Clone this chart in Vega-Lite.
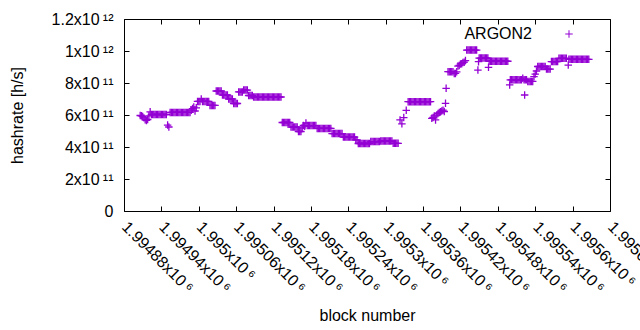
{
"$schema":"https://vega.github.io/schema/vega-lite/v6.json",
"width":486,"height":192,
"autosize":{"type":"none"},
"padding":{"left":124,"top":19,"right":30,"bottom":119},
"background":"white",
"config":{"view":{"stroke":null},"font":"Liberation Sans",
"axis":{"grid":false,"domainColor":"black","tickColor":"black","labelColor":"black","titleColor":"black","labelFont":"Liberation Sans, DejaVu Sans","titleFont":"Liberation Sans","labelFontSize":16,"titleFontSize":16,"titleFontWeight":"normal","tickSize":-5,"domainWidth":1,"tickWidth":1,"labelOverlap":false,"labelFlush":false}},
"data":{"values":[
{"block":1994906,"hashrate":5.97e11},{"block":1994908,"hashrate":5.95e11},{"block":1994910,"hashrate":5.9e11},{"block":1994912,"hashrate":5.82e11},{"block":1994914,"hashrate":5.7e11},{"block":1994916,"hashrate":5.66e11},{"block":1994918,"hashrate":5.72e11},{"block":1994920,"hashrate":5.95e11},{"block":1994922,"hashrate":6.2e11},
{"block":1994924,"hashrate":6.03e11},{"block":1994926,"hashrate":6.03e11},{"block":1994928,"hashrate":6.03e11},{"block":1994930,"hashrate":6.03e11},{"block":1994932,"hashrate":6.03e11},{"block":1994934,"hashrate":6.03e11},{"block":1994936,"hashrate":6.03e11},{"block":1994938,"hashrate":6.03e11},{"block":1994940,"hashrate":6.03e11},{"block":1994942,"hashrate":6.03e11},{"block":1994944,"hashrate":6.03e11},{"block":1994946,"hashrate":6.03e11},{"block":1994948,"hashrate":6.03e11},
{"block":1994950,"hashrate":5.37e11},{"block":1994952,"hashrate":5.25e11},
{"block":1994954,"hashrate":6.16e11},{"block":1994956,"hashrate":6.16e11},{"block":1994958,"hashrate":6.16e11},{"block":1994960,"hashrate":6.16e11},{"block":1994962,"hashrate":6.16e11},{"block":1994964,"hashrate":6.16e11},{"block":1994966,"hashrate":6.16e11},{"block":1994968,"hashrate":6.16e11},{"block":1994970,"hashrate":6.16e11},{"block":1994972,"hashrate":6.16e11},{"block":1994974,"hashrate":6.16e11},{"block":1994976,"hashrate":6.16e11},{"block":1994978,"hashrate":6.16e11},{"block":1994980,"hashrate":6.16e11},{"block":1994982,"hashrate":6.16e11},{"block":1994984,"hashrate":6.16e11},{"block":1994986,"hashrate":6.16e11},
{"block":1994988,"hashrate":6.3e11},{"block":1994990,"hashrate":6.4e11},{"block":1994992,"hashrate":6.5e11},{"block":1994994,"hashrate":6.25e11},{"block":1994996,"hashrate":6.45e11},
{"block":1994998,"hashrate":6.85e11},{"block":1995000,"hashrate":6.85e11},{"block":1995002,"hashrate":6.85e11},{"block":1995004,"hashrate":7.0e11},{"block":1995006,"hashrate":6.85e11},{"block":1995008,"hashrate":6.85e11},{"block":1995010,"hashrate":6.85e11},{"block":1995012,"hashrate":6.85e11},{"block":1995014,"hashrate":6.85e11},{"block":1995016,"hashrate":6.85e11},
{"block":1995018,"hashrate":6.6e11},{"block":1995020,"hashrate":6.6e11},{"block":1995022,"hashrate":6.6e11},{"block":1995024,"hashrate":6.6e11},{"block":1995026,"hashrate":6.6e11},
{"block":1995028,"hashrate":7.5e11},{"block":1995030,"hashrate":7.5e11},{"block":1995032,"hashrate":7.5e11},{"block":1995034,"hashrate":7.5e11},{"block":1995036,"hashrate":7.5e11},
{"block":1995038,"hashrate":7.25e11},{"block":1995040,"hashrate":7.25e11},{"block":1995042,"hashrate":7.25e11},{"block":1995044,"hashrate":7.25e11},{"block":1995046,"hashrate":7.25e11},
{"block":1995048,"hashrate":7.0e11},{"block":1995050,"hashrate":7.0e11},{"block":1995052,"hashrate":7.0e11},{"block":1995054,"hashrate":7.0e11},
{"block":1995056,"hashrate":6.72e11},{"block":1995058,"hashrate":6.72e11},{"block":1995060,"hashrate":6.72e11},{"block":1995062,"hashrate":6.72e11},
{"block":1995064,"hashrate":7.44e11},{"block":1995066,"hashrate":7.44e11},{"block":1995068,"hashrate":7.44e11},{"block":1995070,"hashrate":7.44e11},
{"block":1995072,"hashrate":7.56e11},{"block":1995074,"hashrate":7.56e11},{"block":1995076,"hashrate":7.56e11},{"block":1995078,"hashrate":7.56e11},
{"block":1995080,"hashrate":7.22e11},{"block":1995082,"hashrate":7.22e11},{"block":1995084,"hashrate":7.22e11},{"block":1995086,"hashrate":7.22e11},
{"block":1995088,"hashrate":7.125e11},{"block":1995090,"hashrate":7.125e11},{"block":1995092,"hashrate":7.125e11},{"block":1995094,"hashrate":7.125e11},{"block":1995096,"hashrate":7.125e11},{"block":1995098,"hashrate":7.125e11},{"block":1995100,"hashrate":7.125e11},{"block":1995102,"hashrate":7.125e11},{"block":1995104,"hashrate":7.125e11},{"block":1995106,"hashrate":7.125e11},{"block":1995108,"hashrate":7.125e11},{"block":1995110,"hashrate":7.125e11},{"block":1995112,"hashrate":7.125e11},{"block":1995114,"hashrate":7.125e11},{"block":1995116,"hashrate":7.125e11},{"block":1995118,"hashrate":7.125e11},{"block":1995120,"hashrate":7.125e11},{"block":1995122,"hashrate":7.125e11},{"block":1995124,"hashrate":7.125e11},{"block":1995126,"hashrate":7.125e11},{"block":1995128,"hashrate":7.125e11},{"block":1995130,"hashrate":7.125e11},{"block":1995132,"hashrate":7.125e11},
{"block":1995134,"hashrate":5.53e11},{"block":1995136,"hashrate":5.53e11},{"block":1995138,"hashrate":5.53e11},{"block":1995140,"hashrate":5.53e11},{"block":1995142,"hashrate":5.53e11},{"block":1995144,"hashrate":5.53e11},{"block":1995146,"hashrate":5.53e11},
{"block":1995148,"hashrate":5.25e11},{"block":1995150,"hashrate":5.25e11},{"block":1995152,"hashrate":5.25e11},{"block":1995154,"hashrate":5.25e11},{"block":1995156,"hashrate":5.25e11},{"block":1995158,"hashrate":5.25e11},
{"block":1995160,"hashrate":4.97e11},{"block":1995162,"hashrate":4.97e11},{"block":1995164,"hashrate":4.97e11},
{"block":1995166,"hashrate":5.2e11},{"block":1995168,"hashrate":5.35e11},{"block":1995170,"hashrate":5.3e11},{"block":1995172,"hashrate":5.5e11},
{"block":1995174,"hashrate":5.34e11},{"block":1995176,"hashrate":5.34e11},{"block":1995178,"hashrate":5.34e11},{"block":1995180,"hashrate":5.34e11},{"block":1995182,"hashrate":5.34e11},{"block":1995184,"hashrate":5.34e11},{"block":1995186,"hashrate":5.34e11},{"block":1995188,"hashrate":5.34e11},
{"block":1995190,"hashrate":5.16e11},{"block":1995192,"hashrate":5.16e11},{"block":1995194,"hashrate":5.16e11},{"block":1995196,"hashrate":5.16e11},{"block":1995198,"hashrate":5.16e11},{"block":1995200,"hashrate":5.16e11},{"block":1995202,"hashrate":5.16e11},{"block":1995204,"hashrate":5.16e11},{"block":1995206,"hashrate":5.16e11},{"block":1995208,"hashrate":5.16e11},{"block":1995210,"hashrate":5.16e11},{"block":1995212,"hashrate":5.16e11},
{"block":1995214,"hashrate":4.84e11},{"block":1995216,"hashrate":4.84e11},{"block":1995218,"hashrate":4.84e11},{"block":1995220,"hashrate":4.84e11},{"block":1995222,"hashrate":4.84e11},{"block":1995224,"hashrate":4.84e11},{"block":1995226,"hashrate":4.84e11},{"block":1995228,"hashrate":4.84e11},{"block":1995230,"hashrate":4.84e11},
{"block":1995232,"hashrate":4.62e11},{"block":1995234,"hashrate":4.62e11},{"block":1995236,"hashrate":4.62e11},{"block":1995238,"hashrate":4.62e11},{"block":1995240,"hashrate":4.62e11},{"block":1995242,"hashrate":4.62e11},{"block":1995244,"hashrate":4.62e11},{"block":1995246,"hashrate":4.62e11},{"block":1995248,"hashrate":4.62e11},{"block":1995250,"hashrate":4.62e11},
{"block":1995252,"hashrate":4.44e11},{"block":1995254,"hashrate":4.44e11},
{"block":1995256,"hashrate":4.22e11},{"block":1995258,"hashrate":4.22e11},{"block":1995260,"hashrate":4.22e11},{"block":1995262,"hashrate":4.22e11},{"block":1995264,"hashrate":4.22e11},{"block":1995266,"hashrate":4.22e11},{"block":1995268,"hashrate":4.22e11},{"block":1995270,"hashrate":4.22e11},{"block":1995272,"hashrate":4.22e11},{"block":1995274,"hashrate":4.22e11},
{"block":1995276,"hashrate":4.34e11},{"block":1995278,"hashrate":4.34e11},{"block":1995280,"hashrate":4.34e11},{"block":1995282,"hashrate":4.34e11},{"block":1995284,"hashrate":4.34e11},{"block":1995286,"hashrate":4.34e11},{"block":1995288,"hashrate":4.34e11},{"block":1995290,"hashrate":4.34e11},
{"block":1995292,"hashrate":4.37e11},{"block":1995294,"hashrate":4.37e11},{"block":1995296,"hashrate":4.37e11},{"block":1995298,"hashrate":4.37e11},{"block":1995300,"hashrate":4.37e11},{"block":1995302,"hashrate":4.37e11},{"block":1995304,"hashrate":4.37e11},{"block":1995306,"hashrate":4.37e11},{"block":1995308,"hashrate":4.37e11},{"block":1995310,"hashrate":4.37e11},
{"block":1995312,"hashrate":4.23e11},{"block":1995314,"hashrate":4.23e11},{"block":1995316,"hashrate":4.23e11},{"block":1995318,"hashrate":4.23e11},{"block":1995320,"hashrate":4.23e11},
{"block":1995323,"hashrate":5.69e11},{"block":1995326,"hashrate":5.45e11},{"block":1995329,"hashrate":5.84e11},{"block":1995333,"hashrate":6.29e11},
{"block":1995336,"hashrate":6.83e11},{"block":1995338,"hashrate":6.83e11},{"block":1995340,"hashrate":6.83e11},{"block":1995342,"hashrate":6.83e11},{"block":1995344,"hashrate":6.83e11},{"block":1995346,"hashrate":6.83e11},{"block":1995348,"hashrate":6.83e11},{"block":1995350,"hashrate":6.83e11},{"block":1995352,"hashrate":6.83e11},{"block":1995354,"hashrate":6.83e11},{"block":1995356,"hashrate":6.83e11},{"block":1995358,"hashrate":6.83e11},{"block":1995360,"hashrate":6.83e11},{"block":1995362,"hashrate":6.83e11},{"block":1995364,"hashrate":6.83e11},{"block":1995366,"hashrate":6.83e11},{"block":1995368,"hashrate":6.83e11},{"block":1995370,"hashrate":6.83e11},{"block":1995372,"hashrate":6.83e11},
{"block":1995374,"hashrate":5.79e11},{"block":1995376,"hashrate":5.85e11},{"block":1995378,"hashrate":5.94e11},{"block":1995380,"hashrate":5.69e11},{"block":1995382,"hashrate":6.0e11},{"block":1995384,"hashrate":6.1e11},{"block":1995386,"hashrate":6.15e11},{"block":1995388,"hashrate":6.2e11},{"block":1995390,"hashrate":6.25e11},{"block":1995392,"hashrate":6.3e11},{"block":1995394,"hashrate":6.22e11},{"block":1995396,"hashrate":6.73e11},{"block":1995397,"hashrate":7.67e11},
{"block":1995400,"hashrate":8.71e11},{"block":1995402,"hashrate":8.71e11},{"block":1995404,"hashrate":8.71e11},{"block":1995406,"hashrate":8.71e11},{"block":1995408,"hashrate":8.71e11},{"block":1995410,"hashrate":8.6e11},{"block":1995412,"hashrate":8.6e11},{"block":1995414,"hashrate":8.7e11},
{"block":1995416,"hashrate":9.06e11},{"block":1995418,"hashrate":9.1e11},{"block":1995420,"hashrate":9.19e11},{"block":1995422,"hashrate":9.2e11},{"block":1995424,"hashrate":9.28e11},{"block":1995426,"hashrate":9.3e11},{"block":1995428,"hashrate":9.4e11},
{"block":1995430,"hashrate":1.006e12},{"block":1995432,"hashrate":1.006e12},{"block":1995434,"hashrate":1.006e12},{"block":1995436,"hashrate":1.006e12},{"block":1995438,"hashrate":1.006e12},{"block":1995440,"hashrate":1.006e12},{"block":1995442,"hashrate":1.006e12},{"block":1995444,"hashrate":1.006e12},{"block":1995446,"hashrate":1.006e12},
{"block":1995448,"hashrate":8.81e11},{"block":1995449,"hashrate":9.33e11},
{"block":1995450,"hashrate":9.56e11},{"block":1995452,"hashrate":9.56e11},{"block":1995454,"hashrate":9.56e11},{"block":1995456,"hashrate":9.56e11},{"block":1995458,"hashrate":9.56e11},{"block":1995460,"hashrate":9.56e11},{"block":1995462,"hashrate":9.56e11},{"block":1995464,"hashrate":9.56e11},
{"block":1995465,"hashrate":8.98e11},
{"block":1995466,"hashrate":9.36e11},{"block":1995468,"hashrate":9.36e11},{"block":1995470,"hashrate":9.36e11},{"block":1995472,"hashrate":9.36e11},{"block":1995474,"hashrate":9.36e11},{"block":1995476,"hashrate":9.36e11},{"block":1995478,"hashrate":9.36e11},{"block":1995480,"hashrate":9.36e11},{"block":1995482,"hashrate":9.36e11},{"block":1995484,"hashrate":9.36e11},{"block":1995486,"hashrate":9.36e11},{"block":1995488,"hashrate":9.36e11},{"block":1995490,"hashrate":9.36e11},{"block":1995492,"hashrate":9.36e11},{"block":1995494,"hashrate":9.36e11},{"block":1995496,"hashrate":9.36e11},
{"block":1995499,"hashrate":7.88e11},
{"block":1995500,"hashrate":8.2e11},{"block":1995502,"hashrate":8.2e11},{"block":1995504,"hashrate":8.2e11},{"block":1995506,"hashrate":8.2e11},{"block":1995508,"hashrate":8.2e11},{"block":1995510,"hashrate":8.2e11},{"block":1995512,"hashrate":8.2e11},{"block":1995514,"hashrate":8.2e11},{"block":1995516,"hashrate":8.2e11},{"block":1995518,"hashrate":8.2e11},{"block":1995520,"hashrate":8.3e11},{"block":1995522,"hashrate":8.2e11},{"block":1995524,"hashrate":8.2e11},{"block":1995526,"hashrate":8.2e11},
{"block":1995523,"hashrate":7.25e11},
{"block":1995528,"hashrate":8.1e11},{"block":1995530,"hashrate":8.1e11},{"block":1995532,"hashrate":8.1e11},{"block":1995534,"hashrate":8.1e11},{"block":1995536,"hashrate":8.1e11},
{"block":1995538,"hashrate":8.4e11},{"block":1995540,"hashrate":8.56e11},{"block":1995542,"hashrate":8.75e11},
{"block":1995544,"hashrate":9.03e11},{"block":1995546,"hashrate":9.03e11},{"block":1995548,"hashrate":9.03e11},{"block":1995550,"hashrate":9.03e11},{"block":1995552,"hashrate":9.03e11},{"block":1995554,"hashrate":9.03e11},{"block":1995556,"hashrate":9.03e11},
{"block":1995558,"hashrate":8.87e11},{"block":1995560,"hashrate":8.87e11},{"block":1995562,"hashrate":8.87e11},{"block":1995564,"hashrate":8.87e11},
{"block":1995566,"hashrate":9.34e11},{"block":1995568,"hashrate":9.34e11},{"block":1995570,"hashrate":9.34e11},{"block":1995572,"hashrate":9.34e11},{"block":1995574,"hashrate":9.34e11},{"block":1995576,"hashrate":9.34e11},
{"block":1995578,"hashrate":9.54e11},{"block":1995580,"hashrate":9.54e11},{"block":1995582,"hashrate":9.54e11},{"block":1995584,"hashrate":9.54e11},{"block":1995586,"hashrate":9.54e11},{"block":1995588,"hashrate":9.54e11},{"block":1995590,"hashrate":9.54e11},
{"block":1995593,"hashrate":9.12e11},
{"block":1995594,"hashrate":9.48e11},{"block":1995596,"hashrate":9.48e11},{"block":1995598,"hashrate":9.48e11},{"block":1995600,"hashrate":9.48e11},{"block":1995602,"hashrate":9.48e11},{"block":1995604,"hashrate":9.48e11},{"block":1995606,"hashrate":9.48e11},{"block":1995608,"hashrate":9.48e11},{"block":1995610,"hashrate":9.48e11},{"block":1995612,"hashrate":9.48e11},{"block":1995614,"hashrate":9.48e11},{"block":1995616,"hashrate":9.48e11},{"block":1995618,"hashrate":9.48e11},{"block":1995620,"hashrate":9.48e11},{"block":1995622,"hashrate":9.48e11},{"block":1995624,"hashrate":9.48e11},{"block":1995626,"hashrate":9.48e11}
]},
"layer":[
{"mark":{"type":"point","shape":"M-1,0L1,0M0,-1L0,1","size":56,"filled":false,"strokeWidth":1.3,"opacity":1},
"encoding":{
"x":{"field":"block","type":"quantitative","scale":{"domain":[1994880,1995660],"nice":false,"zero":false},
"axis":{"orient":"bottom","values":[1994880,1994940,1995000,1995060,1995120,1995180,1995240,1995300,1995360,1995420,1995480,1995540,1995600,1995660],"labelExpr":"format(datum.value/1e6,'.5~f')+'x10\u2009\u2076'","labelAngle":45,"labelAlign":"left","labelBaseline":"middle","labelPadding":18,"title":"block number","titleX":243,"titleY":104,"titleBaseline":"middle","titleAlign":"center"}},
"y":{"field":"hashrate","type":"quantitative","scale":{"domain":[0,1.2e12],"nice":false},
"axis":{"orient":"left","values":[0,2e11,4e11,6e11,8e11,1e12,1.2e12],"labelExpr":"datum.value==0?'0':(datum.value>=1e12?format(datum.value/1e12,'~g')+'x10\u2009\u00b9\u00b2':format(datum.value/1e11,'~g')+'x10\u2009\u00b9\u00b9')","labelPadding":16,"labelBaseline":"middle","title":"hashrate [h/s]","titleX":-107,"titleY":96,"titleAngle":-90,"titleBaseline":"middle","titleAlign":"center"}},
"color":{"datum":"ARGON2","scale":{"range":["#9400d3"]},
"legend":{"orient":"none","legendX":437,"legendY":7,"title":null,"padding":0,"labelFontSize":16,"labelFont":"Liberation Sans","labelColor":"black","symbolType":"M-1,0L1,0M0,-1L0,1","symbolSize":56,"symbolStrokeWidth":1,"symbolFillColor":"transparent","symbolStrokeColor":"#9400d3","labelAlign":"right","labelOffset":-45}}
}},
{"mark":{"type":"point","opacity":0},
"encoding":{
"x":{"field":"block","type":"quantitative","axis":{"orient":"top","values":[1994880,1994940,1995000,1995060,1995120,1995180,1995240,1995300,1995360,1995420,1995480,1995540,1995600,1995660],"labels":false,"title":null}},
"y":{"field":"hashrate","type":"quantitative","axis":{"orient":"right","values":[0,2e11,4e11,6e11,8e11,1e12,1.2e12],"labels":false,"title":null}}
}}
],
"resolve":{"axis":{"x":"independent","y":"independent"}}
}
